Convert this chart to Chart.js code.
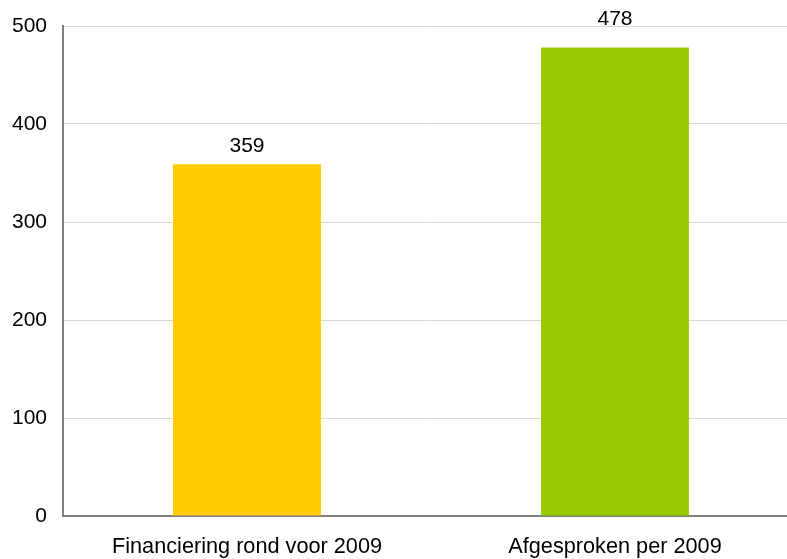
<!DOCTYPE html>
<html>
<head>
<meta charset="utf-8">
<script src="https://cdn.jsdelivr.net/npm/chart.js@4.4.1/dist/chart.umd.min.js"></script>
<style>
  html, body { margin: 0; padding: 0; background: #fff; overflow: hidden; }
  #wrap { width: 799px; height: 559px; }
</style>
</head>
<body>
<div id="wrap"><canvas id="myChart" width="799" height="559"></canvas></div>
<script>
const categories = ["Financiering rond voor 2009", "Afgesproken per 2009"];
const values = [359, 478];
const barColors = ["#ffcc00", "#99cc00"];
const yTicks = [0, 100, 200, 300, 400, 500];

const FONT = "'Liberation Sans', Arial, sans-serif";

// labels boven de staven
const labelLift = [18, 28];
const valueLabels = {
  id: "valueLabels",
  afterDatasetsDraw(chart) {
    const ctx = chart.ctx;
    const meta = chart.getDatasetMeta(0);
    ctx.save();
    ctx.font = "21px " + FONT;
    ctx.fillStyle = "#000";
    ctx.textAlign = "center";
    ctx.textBaseline = "middle";
    meta.data.forEach((bar, i) => {
      ctx.fillText(String(values[i]), bar.x, bar.y - labelLift[i]);
    });
    ctx.restore();
  }
};

const ctx = document.getElementById("myChart").getContext("2d");
new Chart(ctx, {
  type: "bar",
  data: {
    labels: categories,
    datasets: [{
      data: values,
      backgroundColor: barColors,
      borderWidth: 0,
      barPercentage: 0.402,
      categoryPercentage: 1
    }]
  },
  options: {
    responsive: false,
    animation: false,
    layout: { padding: { top: 26, left: 0, right: 0, bottom: 0 } },
    plugins: {
      legend: { display: false },
      tooltip: { enabled: false }
    },
    scales: {
      x: {
        afterFit: (s) => { s.height = 43; s.paddingLeft = 0; s.paddingRight = 0; },
        grid: { display: false },
        border: { display: true, color: "#808080", width: 2 },
        ticks: {
          color: "#000",
          padding: 10,
          font: { family: FONT, size: 21.7 }
        }
      },
      y: {
        min: 0,
        max: 500,
        afterFit: (s) => { s.width = 63; s.paddingTop = 0; s.paddingBottom = 0; },
        afterBuildTicks: (s) => { s.ticks = yTicks.map(v => ({ value: v })); },
        grid: { color: "#d9d9d9", lineWidth: 1, drawTicks: false },
        border: { display: true, color: "#808080", width: 2 },
        ticks: {
          color: "#000",
          padding: 16,
          font: { family: FONT, size: 21 }
        }
      }
    }
  },
  plugins: [valueLabels]
});
</script>
</body>
</html>
